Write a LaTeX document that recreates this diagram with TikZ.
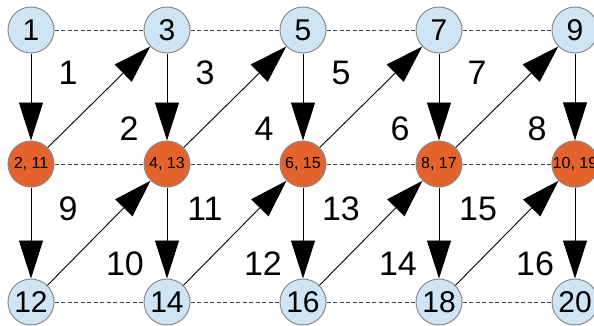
\documentclass[tikz,border=0pt]{standalone}
\usepackage{fontspec}
\setmainfont{Liberation Sans}
\usetikzlibrary{arrows.meta}
\definecolor{vblue}{HTML}{CFE5F4}
\definecolor{vorange}{HTML}{E4632D}
\definecolor{vrim}{HTML}{8A8A8A}
\tikzset{
  vtx/.style={circle, draw=vrim, line width=1pt, minimum size=46pt, inner sep=0pt},
  topv/.style={vtx, fill=vblue, font=\fontsize{30}{30}\selectfont},
  midv/.style={vtx, fill=vorange, font=\fontsize{16}{16}\selectfont},
  link/.style={draw=black, line width=0.9pt, -{Triangle[length=38pt,width=24pt]}},
  rung/.style={draw=black!75, line width=0.8pt, dash pattern=on 4pt off 2.5pt},
  lbl/.style={font=\fontsize{34}{34}\selectfont, inner sep=0pt}
}
\begin{document}
\begin{tikzpicture}[x=1pt,y=-1pt]
\clip (0,0) rectangle (594,325);
\fill[white] (0,0) rectangle (594,325);

% top row
\node[topv] (t1) at (31,30) {1};
\node[topv] (t2) at (167,30) {3};
\node[topv] (t3) at (303,30) {5};
\node[topv] (t4) at (439,30) {7};
\node[topv] (t5) at (575,30) {9};
% middle row
\node[midv] (m1) at (31,164) {2, 11};
\node[midv] (m2) at (167,164) {4, 13};
\node[midv] (m3) at (303,164) {6, 15};
\node[midv] (m4) at (439,164) {8, 17};
\node[midv] (m5) at (575,164) {10, 19};
% bottom row
\node[topv] (b1) at (31,302) {12};
\node[topv] (b2) at (167,302) {14};
\node[topv] (b3) at (303,302) {16};
\node[topv] (b4) at (439,302) {18};
\node[topv] (b5) at (575,302) {20};

% dashed rungs
\foreach \a/\b in {1/2,2/3,3/4,4/5}{
  \draw[rung] (t\a) -- (t\b);
  \draw[rung] (m\a) -- (m\b);
  \draw[rung] (b\a) -- (b\b);
}

% arrows
\foreach \i in {1,...,5}{
  \draw[link] (t\i) -- (m\i);
  \draw[link] (m\i) -- (b\i);
}
\foreach \a/\b in {1/2,2/3,3/4,4/5}{
  \draw[link] (m\a) -- (t\b);
  \draw[link] (b\a) -- (m\b);
}

% edge labels
\node[lbl] (l1) at (68,73) {1};
\node[lbl] (l3) at (205,73) {3};
\node[lbl] (l5) at (341,73) {5};
\node[lbl] (l7) at (477,73) {7};
\node[lbl] (l2) at (129,129) {2};
\node[lbl] (l4) at (264,129) {4};
\node[lbl] (l6) at (400,129) {6};
\node[lbl] (l8) at (537,129) {8};
\node[lbl] (l9) at (68,209) {9};
\node[lbl] (l11) at (205,209) {11};
\node[lbl] (l13) at (341,209) {13};
\node[lbl] (l15) at (478,209) {15};
\node[lbl] (l10) at (125,264) {10};
\node[lbl] (l12) at (263,264) {12};
\node[lbl] (l14) at (398,264) {14};
\node[lbl] (l16) at (535,264) {16};
\end{tikzpicture}
\end{document}
